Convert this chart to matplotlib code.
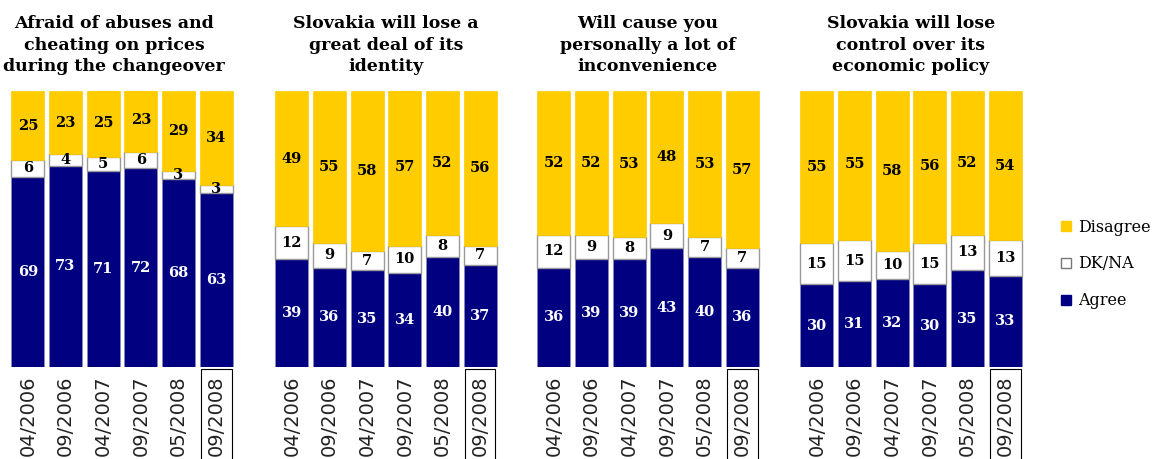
import matplotlib.pyplot as plt
from matplotlib.patches import Patch

periodos = ['04/2006', '09/2006', '04/2007', '09/2007', '05/2008', '09/2008']

titulos = ['Afraid of abuses and\ncheating on prices\nduring the changeover',
           'Slovakia will lose a\ngreat deal of its\nidentity',
           'Will cause you\npersonally a lot of\ninconvenience',
           'Slovakia will lose\ncontrol over its\neconomic policy']

agree = [[69, 73, 71, 72, 68, 63],
         [39, 36, 35, 34, 40, 37],
         [36, 39, 39, 43, 40, 36],
         [30, 31, 32, 30, 35, 33]]
dkna = [[6, 4, 5, 6, 3, 3],
        [12, 9, 7, 10, 8, 7],
        [12, 9, 8, 9, 7, 7],
        [15, 15, 10, 15, 13, 13]]
disagree = [[25, 23, 25, 23, 29, 34],
            [49, 55, 58, 57, 52, 56],
            [52, 52, 53, 48, 53, 57],
            [55, 55, 58, 56, 52, 54]]

amarillo = '#FFCC00'
azul = '#000080'
serif = ['DejaVu Serif']

W, H = 1155, 459
fig = plt.figure(figsize=(W / 100, H / 100), dpi=100)

lefts = [9, 273, 535, 798]
desplaz_titulo = [-8, 0, 0, 0]
x = list(range(len(periodos)))

for i, l in enumerate(lefts):
    ax = fig.add_axes([l / W, (H - 367) / H, 226 / W, 276 / H])
    ax.bar(x, agree[i], width=0.88, color=azul, edgecolor='#8888bb', linewidth=0.6)
    ax.bar(x, dkna[i], width=0.88, bottom=agree[i], color='white',
           edgecolor='#999999', linewidth=1.0)
    base = [a + d for a, d in zip(agree[i], dkna[i])]
    ax.bar(x, disagree[i], width=0.88, bottom=base, color=amarillo, edgecolor=amarillo,
           linewidth=0.5)
    for j in x:
        ax.text(j, agree[i][j] / 2, str(agree[i][j]), ha='center', va='center',
                color='white', fontsize=10.5, fontweight='bold', family=serif)
        ax.text(j, agree[i][j] + dkna[i][j] / 2, str(dkna[i][j]), ha='center', va='center',
                color='black', fontsize=10.5, fontweight='bold', family=serif)
        ax.text(j, base[j] + disagree[i][j] / 2, str(disagree[i][j]), ha='center',
                va='center', color='black', fontsize=10.5, fontweight='bold', family=serif)
    ax.set_xlim(-0.5, 5.5)
    ax.set_ylim(0, 100)
    ax.axis('off')
    for j, p in enumerate(periodos):
        t = ax.text(j, -3.0, p, rotation=90, ha='center', va='top', fontsize=14,
                    family=['DejaVu Sans'], color='#222222')
        if j == 5:
            t.set_bbox(dict(boxstyle='square,pad=0.3', facecolor='none',
                            edgecolor='black', linewidth=0.8))
    fig.text((l + 113 + desplaz_titulo[i]) / W, 1 - 15 / H, titulos[i], ha='center',
             va='top', fontsize=12.5, fontweight='bold', family=serif, linespacing=1.35)

handles = [Patch(facecolor=amarillo, edgecolor=amarillo),
           Patch(facecolor='white', edgecolor='#777777'),
           Patch(facecolor=azul, edgecolor=azul)]
fig.legend(handles, ['Disagree', 'DK/NA', 'Agree'], loc='center left',
           bbox_to_anchor=(1061 / W, 1 - 264 / H), frameon=False, handlelength=0.65,
           handleheight=0.65, handletextpad=0.45, labelspacing=1.25, borderaxespad=0,
           borderpad=0, prop={'family': 'DejaVu Serif', 'size': 11.5})

fig.savefig('out.png', dpi=100)
